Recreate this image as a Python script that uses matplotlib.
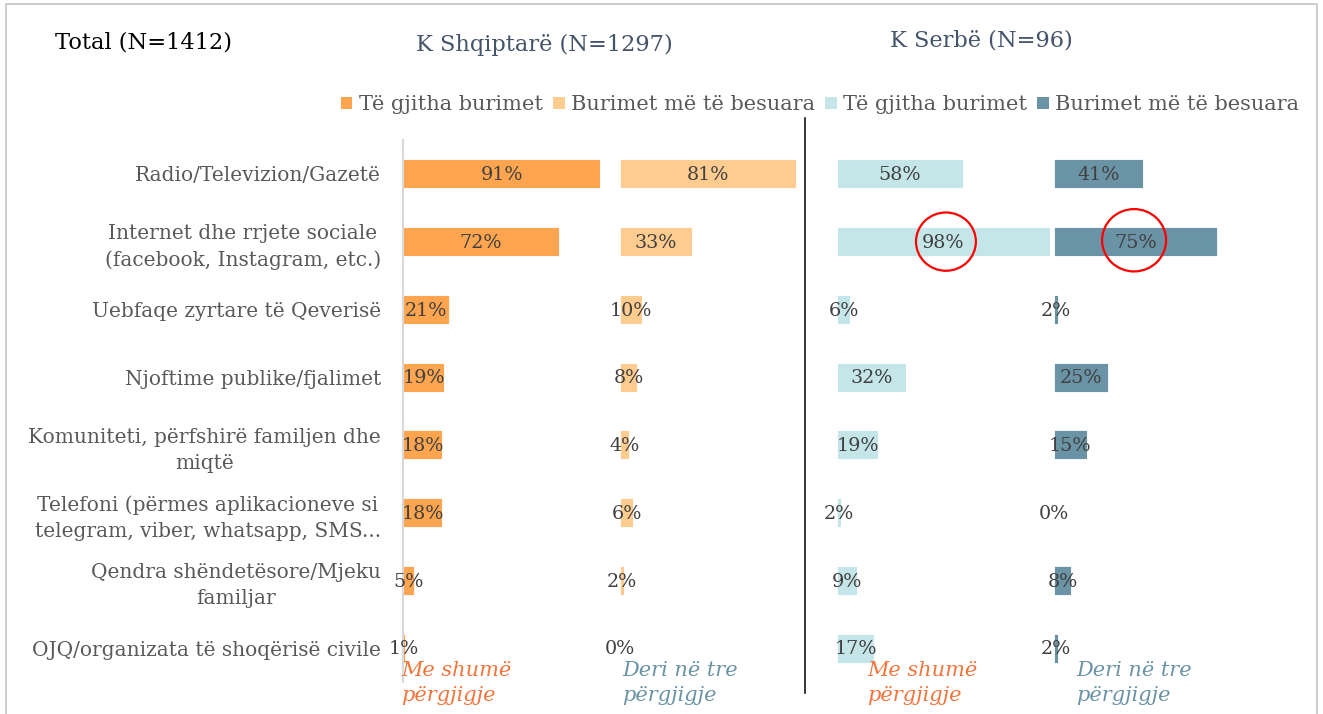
import matplotlib
matplotlib.use("Agg")
import matplotlib.pyplot as plt
from matplotlib.patches import Ellipse, Patch
from matplotlib.lines import Line2D

categories = [
    "Radio/Televizion/Gazetë",
    "Internet dhe rrjete sociale\n(facebook, Instagram, etc.)",
    "Uebfaqe zyrtare të Qeverisë",
    "Njoftime publike/fjalimet",
    "Komuniteti, përfshirë familjen dhe\nmiqtë",
    "Telefoni (përmes aplikacioneve si\ntelegram, viber, whatsapp, SMS...",
    "Qendra shëndetësore/Mjeku\nfamiljar",
    "OJQ/organizata të shoqërisë civile",
]
shq_all = [91, 72, 21, 19, 18, 18, 5, 1]
shq_trusted = [81, 33, 10, 8, 4, 6, 2, 0]
srb_all = [58, 98, 6, 32, 19, 2, 9, 17]
srb_trusted = [41, 75, 2, 25, 15, 0, 8, 2]
series_names = ["Të gjitha burimet", "Burimet më të besuara",
                "Të gjitha burimet", "Burimet më të besuara"]
colors = ["#FFA54F", "#FFCC90", "#C5E6E8", "#6A93A5"]

W, H = 1323, 714
fig = plt.figure(figsize=(W / 100, H / 100), dpi=100)
plt.rcParams['font.family'] = ['DejaVu Serif']

ax_left, ax_right = 403, 1271
ax_top, ax_bot = 140, 682
ax = fig.add_axes([ax_left / W, 1 - ax_bot / H, (ax_right - ax_left) / W, (ax_bot - ax_top) / H])
ax.set_xlim(0, 400)
ax.set_ylim(7.5, -0.5)

ypos = list(range(len(categories)))
all_series = [shq_all, shq_trusted, srb_all, srb_trusted]
for gi, (vals, col) in enumerate(zip(all_series, colors)):
    off = gi * 100
    ax.barh(ypos, vals, left=off, height=0.43, color=col, edgecolor="white", linewidth=0.6)
    for y, v in zip(ypos, vals):
        ax.text(off + v / 2, y + 0.02, f"{v}%", ha="center", va="center",
                fontsize=13.8, color="#404040")

for s in ["top", "right", "bottom"]:
    ax.spines[s].set_visible(False)
ax.spines["left"].set_color("#D9D9D9")
ax.spines["left"].set_linewidth(1.5)
ax.set_xticks([])
ax.set_yticks(ypos)
ax.set_yticklabels(categories, fontsize=14.5, color="#595959", linespacing=1.45)
ax.tick_params(axis="y", length=0, pad=16)
for lbl in ax.get_yticklabels():
    lbl.set_horizontalalignment("right")
    lbl.set_multialignment("center")

# red circles highlighting
ax.add_patch(Ellipse((250.2, 1.0), 27.6, 0.86, fill=False, edgecolor="#FF0000",
                     linewidth=1.6, clip_on=False))
ax.add_patch(Ellipse((336.9, 0.98), 29.5, 0.92, fill=False, edgecolor="#FF0000",
                     linewidth=1.6, clip_on=False))

# vertical separator line
fig.add_artist(Line2D([805 / W, 805 / W], [1 - 118 / H, 1 - 693 / H],
                      color="#000000", linewidth=1.1))

# frame
fig.add_artist(Line2D([6 / W, 6 / W, 1317 / W, 1317 / W],
                      [0, 1 - 4 / H, 1 - 4 / H, 0], color="#C8C8C8", linewidth=1.3))

# titles
fig.text(55 / W, 1 - 43 / H, "Total (N=1412)", fontsize=16.2, color="#000000",
         ha="left", va="center")
fig.text(544 / W, 1 - 45 / H, "K Shqiptarë (N=1297)", fontsize=16.2, color="#44546A",
         ha="center", va="center")
fig.text(981 / W, 1 - 41 / H, "K Serbë (N=96)", fontsize=16.2, color="#44546A",
         ha="center", va="center")

# legend
handles = [Patch(facecolor=c, edgecolor="none") for c in colors]
fig.legend(handles, series_names, loc="center", ncol=4,
           bbox_to_anchor=(820 / W, 1 - 105 / H), frameon=False,
           fontsize=15, handlelength=0.55, handleheight=0.55, handletextpad=0.3,
           columnspacing=0.5, labelcolor="#595959")

# bottom notes
notes = [(401, "Me shumë\npërgjigje", "#F4743B"),
         (622, "Deri në tre\npërgjigje", "#6A93A5"),
         (867, "Me shumë\npërgjigje", "#F4743B"),
         (1076, "Deri në tre\npërgjigje", "#6A93A5")]
for x, t, c in notes:
    fig.text(x / W, 1 - 661 / H, t, fontsize=15, style="italic", color=c,
             ha="left", va="top", linespacing=1.4)

fig.savefig("out.png", dpi=100)
